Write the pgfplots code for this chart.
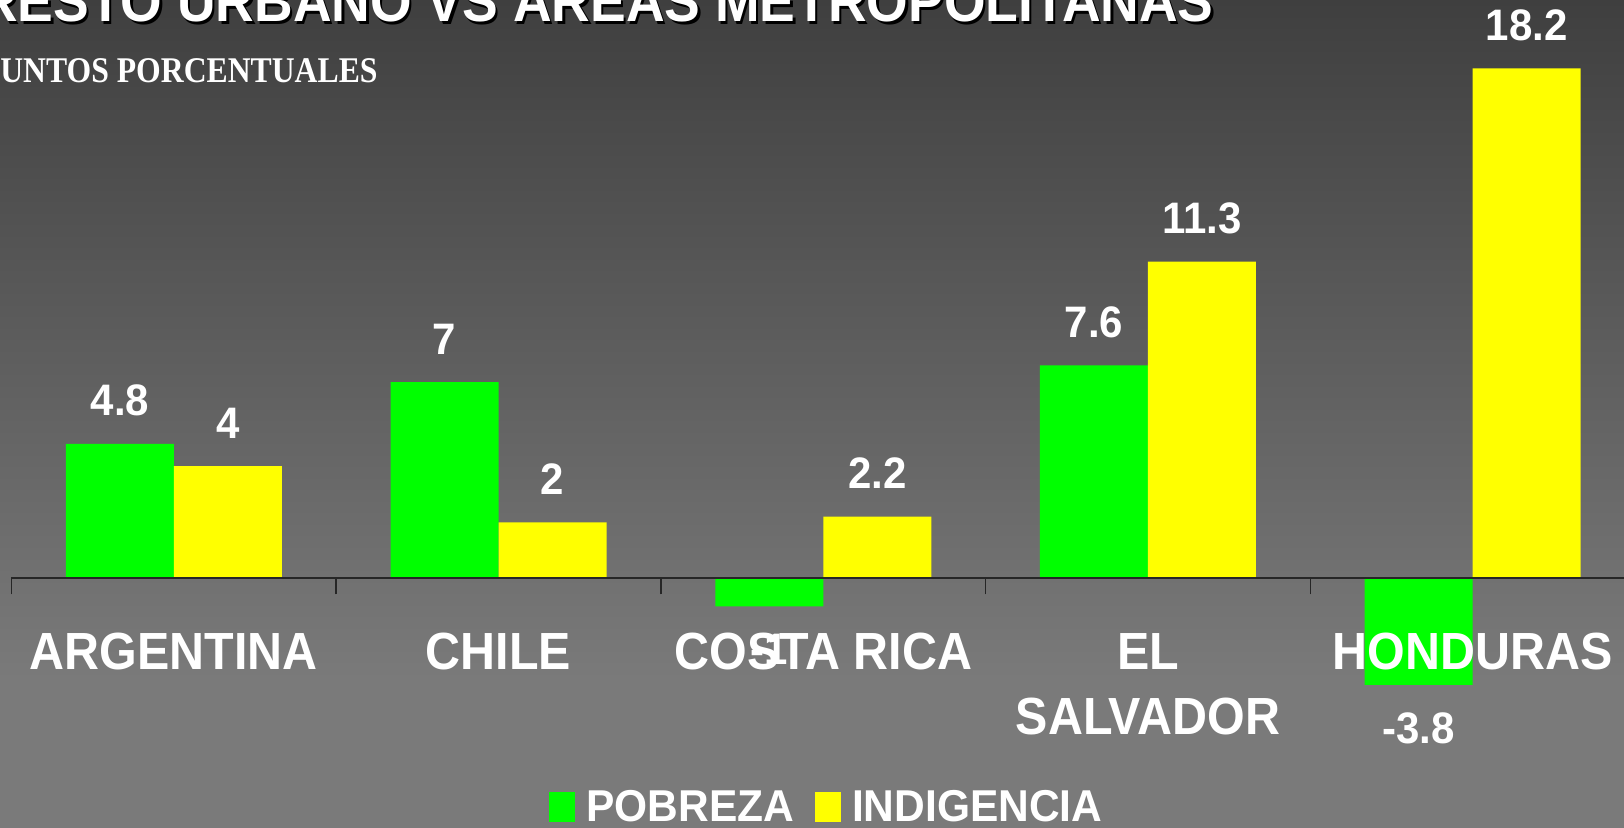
\documentclass[border=0pt]{standalone}
\usepackage{fontspec}
\setmainfont{Liberation Sans}
\newfontfamily\serifb{Liberation Serif}
\usepackage{pgfplots}
\pgfplotsset{compat=1.18}
\definecolor{bgtop}{HTML}{3F3F3F}
\definecolor{bgbot}{HTML}{7A7A7A}
\definecolor{pob}{HTML}{00FF00}
\definecolor{ind}{HTML}{FFFF00}
\begin{document}
\begin{tikzpicture}
\useasboundingbox (0,0) rectangle (812pt,414pt);
\clip (0,0) rectangle (812pt,414pt);
\fill[bgbot] (0,0) rectangle (812pt,74.5pt);
\shade[top color=bgtop, bottom color=bgbot] (0,74pt) rectangle (812pt,414pt);
\begin{axis}[
  at={(5.75pt,54.8pt)}, anchor=south west,
  scale only axis, width=806.25pt, height=350.25pt,
  xmin=0.5, xmax=5.466, ymin=-5, ymax=20,
  axis x line=middle, axis y line=none,
  axis on top, clip=false,
  x axis line style={-, line width=0.8pt, color=black!85},
  xtick={1,2,3,4,5},
  xticklabels={ARGENTINA, CHILE, COSTA RICA, {EL\\SALVADOR}, HONDURAS},
  minor xtick={0.5,1.5,2.5,3.5,4.5},
  major tick length=0pt, minor tick length=8pt, tick align=outside,
  tick style={black!85, line width=0.8pt},
  xticklabel style={font=\fontsize{24.2pt}{30.2pt}\selectfont\bfseries, text=white,
    align=center, anchor=north, inner sep=0pt, yshift=-27.2pt, yscale=1.08},
  ybar=0pt, bar width=54pt,
  nodes near coords, nodes near coords align={vertical},
  nodes near coords style={font=\fontsize{21pt}{21pt}\selectfont\bfseries, text=white,
    inner xsep=0pt, inner ysep=13pt, yscale=1.05},
  /pgf/number format/assume math mode=true,
  legend columns=2,
  legend style={at={(0.3333,-0.1522)}, anchor=south west, draw=none, fill=none,
    inner sep=0pt, font=\fontsize{21.25pt}{21.25pt}\selectfont\bfseries, text=white,
    nodes={inner sep=0pt, yscale=1.05},
    /tikz/every odd column/.append style={column sep=5.5pt},
    /tikz/every even column/.append style={column sep=10.5pt}},
  legend image code/.code={\fill[#1,draw=none] (0pt,-7.5pt) rectangle (13pt,7.5pt);},
]
\addplot[fill=pob, draw=none] coordinates {(1,4.8) (2,7) (3,-1) (4,7.6) (5,-3.8)};
\addplot[fill=ind, draw=none] coordinates {(1,4) (2,2) (3,2.2) (4,11.3) (5,18.2)};
\legend{POBREZA, INDIGENCIA}
\end{axis}
\node[anchor=base east, inner sep=0pt, text=black, yscale=1.08,
  font=\fontsize{26.75pt}{28pt}\selectfont\bfseries] at (608.2pt,401.9pt) {RESTO URBANO VS AREAS METROPOLITANAS};
\node[anchor=base east, inner sep=0pt, text=white, yscale=1.08,
  font=\fontsize{26.75pt}{28pt}\selectfont\bfseries] at (607pt,403.1pt) {RESTO URBANO VS AREAS METROPOLITANAS};
\node[anchor=base east, inner sep=0pt, text=white, yscale=1.14,
  font=\serifb\bfseries\fontsize{15.85pt}{16pt}\selectfont] at (189pt,372.85pt) {PUNTOS PORCENTUALES};
\end{tikzpicture}
\end{document}
